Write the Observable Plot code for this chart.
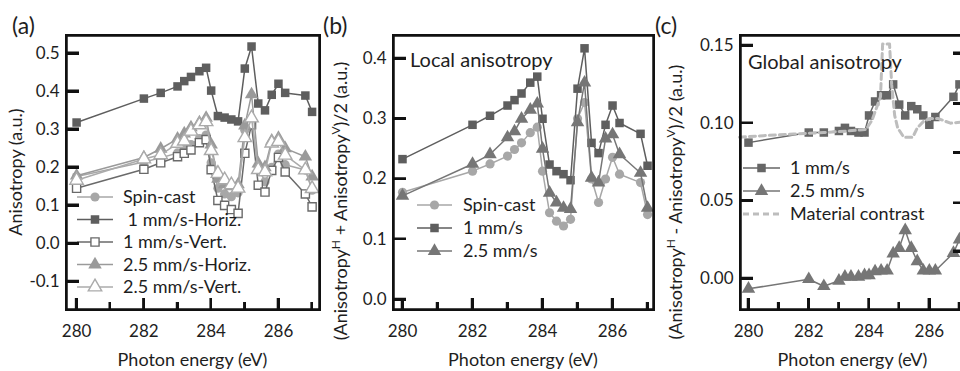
<!DOCTYPE html>
<html><head><meta charset="utf-8">
<script src="https://cdn.jsdelivr.net/npm/d3@7"></script>
<script src="https://cdn.jsdelivr.net/npm/@observablehq/plot@0.6"></script>
<style>
html,body{margin:0;padding:0;background:#fff;overflow:hidden}
#chart{position:relative;width:960px;height:371px;overflow:hidden;font-family:Lato,sans-serif}
#chart svg{position:absolute;top:0;overflow:visible}
#chart .ink{position:absolute;background:#111;z-index:5}
#chart .box{position:absolute;border:2.5px solid #111;box-sizing:border-box;z-index:5}
</style></head><body><div id="chart"></div>
<script>
// ---------- data ----------
const energy = [280, 282, 282.5, 283, 283.2, 283.4, 283.65, 283.85, 284, 284.2, 284.4, 284.6, 284.8, 285, 285.2, 285.4, 285.6, 285.8, 286, 286.2, 286.8, 287];

// panel (a)
const namesA = ["Spin-cast", " 1 mm/s-Horiz.", "1 mm/s-Vert.", "2.5 mm/s-Horiz.", "2.5 mm/s-Vert."];
const spinCastA  = [0.176, 0.214, 0.225, 0.238, 0.249, 0.26, 0.276, 0.285, 0.212, 0.145, 0.13, 0.123, 0.133, 0.298, 0.325, 0.2, 0.162, 0.2, 0.235, 0.207, 0.193, 0.14];
const mm1HorizA  = [0.318, 0.381, 0.396, 0.413, 0.427, 0.438, 0.453, 0.462, 0.402, 0.335, 0.331, 0.326, 0.321, 0.46, 0.518, 0.368, 0.35, 0.391, 0.42, 0.396, 0.389, 0.346];
const mm1VertA   = [0.145, 0.195, 0.212, 0.228, 0.237, 0.246, 0.265, 0.273, 0.194, 0.113, 0.1, 0.089, 0.079, 0.237, 0.312, 0.153, 0.135, 0.192, 0.226, 0.188, 0.13, 0.096];
const mm25HorizA = [0.178, 0.226, 0.249, 0.275, 0.289, 0.305, 0.318, 0.33, 0.26, 0.17, 0.155, 0.15, 0.155, 0.31, 0.392, 0.21, 0.2, 0.27, 0.277, 0.25, 0.228, 0.176];
const mm25VertA  = [0.166, 0.222, 0.233, 0.263, 0.269, 0.295, 0.312, 0.32, 0.244, 0.184, 0.167, 0.154, 0.145, 0.278, 0.33, 0.194, 0.188, 0.264, 0.268, 0.232, 0.193, 0.144];

// panel (b)
const namesB = ["Spin-cast", "1 mm/s", "2.5 mm/s"];
const spinCastB = [0.178, 0.213, 0.225, 0.238, 0.249, 0.26, 0.277, 0.286, 0.213, 0.144, 0.13, 0.122, 0.133, 0.3, 0.327, 0.2, 0.161, 0.2, 0.236, 0.208, 0.194, 0.141];
const mm1B      = [0.233, 0.29, 0.305, 0.322, 0.331, 0.342, 0.36, 0.37, 0.3, 0.224, 0.213, 0.208, 0.198, 0.35, 0.417, 0.26, 0.243, 0.29, 0.322, 0.293, 0.275, 0.222];
const mm25B     = [0.172, 0.225, 0.241, 0.269, 0.279, 0.3, 0.315, 0.325, 0.25, 0.177, 0.161, 0.152, 0.15, 0.294, 0.36, 0.202, 0.194, 0.267, 0.274, 0.241, 0.21, 0.152];

// panel (c)
const namesC = ["1 mm/s", "2.5 mm/s", "Material contrast"];
const mm1C  = [0.0875, 0.094, 0.094, 0.095, 0.097, 0.095, 0.094, 0.094, 0.105, 0.114, 0.118, 0.118, 0.125, 0.112, 0.105, 0.111, 0.109, 0.105, 0.099, 0.104, 0.117, 0.125];
const mm25C = [-0.0067, -0.0005, -0.005, -0.0015, 0.001, 0.001, 0.001, 0.002, 0.002, 0.0045, 0.005, 0.005, 0.016, 0.0196, 0.031, 0.0196, 0.011, 0.005, 0.005, 0.005, 0.0164, 0.025];
const materialEnergy = [279.7, 280.5, 281.5, 282.5, 283.3, 283.9, 284.1, 284.25, 284.38, 284.45, 284.68, 284.75, 284.85, 284.95, 285.15, 285.45, 285.6, 285.8, 286.0, 286.3, 286.7, 287.2];
const materialValue  = [0.091, 0.092, 0.093, 0.094, 0.095, 0.096, 0.102, 0.11, 0.117, 0.151, 0.151, 0.125, 0.105, 0.097, 0.091, 0.091, 0.097, 0.101, 0.103, 0.103, 0.1, 0.101];

// axes
const xLabelTicks = [280, 282, 284, 286];
const xAllTicks = [280, 281, 282, 283, 284, 285, 286, 287];
const yTicksA = [-0.1, 0.0, 0.1, 0.2, 0.3, 0.4, 0.5];
const yTicksB = [0.0, 0.1, 0.2, 0.3, 0.4];
const yTicksC = [0.00, 0.05, 0.10, 0.15];
const yRightTicksC = [0.145, 0.1125, 0.081, 0.0485, 0.0175];

// ---------- drawing ----------
const chartDiv = document.getElementById("chart");
const FONT = "Lato, sans-serif";
const INK = "#1e1e1e";
const FRAME = "#111111";

function inkDiv(cls, left, top, w, h) {
  const d = document.createElement("div");
  d.className = cls;
  d.style.left = left + "px"; d.style.top = top + "px";
  d.style.width = w + "px"; d.style.height = h + "px";
  chartDiv.appendChild(d);
}

function makePanel(cfg) {
  const marks = [];
  for (const s of cfg.series) {
    const rows = s.x.map((e, i) => ({e, v: s.y[i]}));
    if (s.dash) {
      marks.push(Plot.line(rows, {x: "e", y: "v", stroke: s.color, strokeWidth: 3, strokeDasharray: "6,4"}));
    } else {
      marks.push(Plot.line(rows, {x: "e", y: "v", stroke: s.color, strokeWidth: 1.5}));
      marks.push(Plot.dot(rows, {x: "e", y: "v", symbol: s.symbol, r: s.r,
        fill: s.open ? "white" : s.color, stroke: s.color, strokeWidth: s.open ? 1.4 : 0}));
    }
  }
  marks.push(Plot.axisY(cfg.yTicks, {tickSize: 0, tickPadding: 7, tickFormat: d => d.toFixed(cfg.digits), label: null}));
  marks.push(Plot.axisX(xLabelTicks, {tickSize: 0, tickPadding: 15, tickFormat: d => String(d), label: null}));
  marks.push(Plot.frame({stroke: FRAME, strokeWidth: 2.5}));

  const p = Plot.plot({
    width: cfg.width, height: 371,
    marginLeft: cfg.ml, marginRight: cfg.mr, marginTop: 35, marginBottom: 62,
    x: {domain: cfg.xDomain},
    y: {domain: cfg.yDomain},
    style: {fontFamily: FONT, fontSize: "17px", color: INK, background: "transparent", overflow: "visible"},
    marks
  });
  p.style.left = cfg.left + "px";
  chartDiv.appendChild(p);

  const fx = d3.scaleLinear(cfg.xDomain, [cfg.ml, cfg.width - cfg.mr]);
  const fy = d3.scaleLinear(cfg.yDomain, [371 - 62, 35]);
  const scX = p.scale && p.scale("x"), scY = p.scale && p.scale("y");
  const sx = v => (scX && scX.apply) ? scX.apply(v) : fx(v);
  const sy = v => (scY && scY.apply) ? scY.apply(v) : fy(v);

  const svg = d3.select(p);
  const x0 = sx(cfg.xDomain[0]), x1 = sx(cfg.xDomain[1]), y0 = sy(cfg.yDomain[0]), yTop = sy(cfg.yDomain[1]);

  // ticks (SVG path) + HTML overlay copies of frame and ticks
  let d = "";
  const L = cfg.left;
  inkDiv("box", L + x0 - 0.75, yTop - 0.75, (x1 - x0) + 2.5, (y0 - yTop) + 2.5);
  for (const v of cfg.yTicks) {
    const y = sy(v);
    d += `M${x0},${y}H${x0 + 13}`;
    inkDiv("ink", L + x0, y - 0.75, 13, 2.5);
  }
  for (const v of (cfg.rightTicks || [])) {
    const y = sy(v);
    d += `M${x1},${y}H${x1 - 12}`;
    inkDiv("ink", L + x1 - 12, y - 0.75, 12, 2.5);
  }
  for (const v of xAllTicks) {
    const x = sx(v), len = xLabelTicks.includes(v) ? 11 : 7;
    d += `M${x},${y0}V${y0 - len}`;
    inkDiv("ink", L + x - 0.75, y0 - len, 2.5, len);
  }
  svg.append("path").attr("d", d).attr("fill", "none").attr("stroke", FRAME).attr("stroke-width", 2.5);

  const T = (x, y, size) => svg.append("text").attr("x", x).attr("y", y).attr("fill", INK)
    .attr("text-anchor", "start").style("font-family", FONT).style("font-size", size + "px");
  T((cfg.ml + cfg.width - cfg.mr) / 2, 366, 18).attr("text-anchor", "middle").text("Photon energy (eV)");
  T(cfg.letterX, 34, 23).text(cfg.letter);
  const yt = svg.append("text").attr("transform", `translate(${cfg.yTitleX},${cfg.yTitleY}) rotate(-90)`)
    .attr("text-anchor", "middle").attr("dy", "0.35em").attr("fill", INK)
    .style("font-family", FONT).style("font-size", "18px");
  for (const part of cfg.yTitle) {
    const t = yt.append("tspan").text(part.t);
    if (part.sup) t.attr("baseline-shift", "super").style("font-size", "12px");
  }
  if (cfg.inner) T(cfg.inner.x, cfg.inner.y, 20).text(cfg.inner.text);

  const lg = cfg.legend;
  cfg.series.forEach((s, i) => {
    const yy = lg.y0 + i * lg.dy;
    const row = svg.append("g");
    const line = row.append("line").attr("x1", lg.x0).attr("x2", lg.x1).attr("y1", yy).attr("y2", yy)
      .attr("stroke", s.color);
    if (s.dash) line.attr("stroke-width", 3).attr("stroke-dasharray", "6,4");
    else {
      line.attr("stroke-width", 1.5);
      const type = {circle: d3.symbolCircle, square: d3.symbolSquare, triangle: d3.symbolTriangle}[s.symbol];
      row.append("path").attr("transform", `translate(${(lg.x0 + lg.x1) / 2},${yy})`)
        .attr("d", d3.symbol(type, Math.PI * s.r * s.r)())
        .attr("fill", s.open ? "white" : s.color).attr("stroke", s.color).attr("stroke-width", s.open ? 1.4 : 0);
    }
    T(lg.tx, yy, 18).attr("dy", "0.36em").style("white-space", "pre").text(s.name);
  });
}

const DARK = "#5e5e5e", LIGHT = "#a7a7a7", MID = "#9a9a9a";

makePanel({
  left: 0, width: 330, ml: 66, mr: 11,
  xDomain: [279.70, 287.22], yDomain: [-0.174, 0.547],
  yTicks: yTicksA, digits: 1, letter: "(a)", letterX: 12,
  yTitleX: 16, yTitleY: 172, yTitle: [{t: "Anisotropy (a.u.)"}],
  series: [
    {name: namesA[0], x: energy, y: spinCastA, symbol: "circle", r: 4.6, color: LIGHT},
    {name: namesA[1], x: energy, y: mm1HorizA, symbol: "square", r: 4.8, color: DARK},
    {name: namesA[2], x: energy, y: mm1VertA, symbol: "square", r: 4.6, color: "#6a6a6a", open: true},
    {name: namesA[3], x: energy, y: mm25HorizA, symbol: "triangle", r: 5, color: MID},
    {name: namesA[4], x: energy, y: mm25VertA, symbol: "triangle", r: 5, color: "#ababab", open: true}
  ],
  legend: {x0: 77, x1: 113, tx: 123, y0: 197, dy: 22.5}
});

makePanel({
  left: 320, width: 340, ml: 73, mr: 7,
  xDomain: [279.743, 287.17], yDomain: [-0.0167, 0.4383],
  yTicks: yTicksB, digits: 1, letter: "(b)", letterX: 3,
  yTitleX: 21, yTitleY: 201,
  yTitle: [{t: "(Anisotropy"}, {t: "H", sup: true}, {t: " + Anisotropy"}, {t: "V", sup: true}, {t: ")/2 (a.u.)"}],
  inner: {x: 90, y: 67, text: "Local anisotropy"},
  series: [
    {name: namesB[0], x: energy, y: spinCastB, symbol: "circle", r: 4.6, color: LIGHT},
    {name: namesB[1], x: energy, y: mm1B, symbol: "square", r: 4.8, color: DARK},
    {name: namesB[2], x: energy, y: mm25B, symbol: "triangle", r: 5, color: "#767676"}
  ],
  legend: {x0: 97, x1: 132, tx: 143, y0: 205, dy: 23}
});

makePanel({
  left: 650, width: 320, ml: 90, mr: 5,
  xDomain: [279.735, 287.2], yDomain: [-0.02, 0.1565],
  yTicks: yTicksC, digits: 2, letter: "(c)", letterX: 5, rightTicks: yRightTicksC,
  yTitleX: 26, yTitleY: 202,
  yTitle: [{t: "(Anisotropy"}, {t: "H", sup: true}, {t: " - Anisotropy"}, {t: "V", sup: true}, {t: ")/2 (a.u.)"}],
  inner: {x: 98, y: 69, text: "Global anisotropy"},
  series: [
    {name: namesC[0], x: energy, y: mm1C, symbol: "square", r: 4.8, color: "#666666"},
    {name: namesC[1], x: energy, y: mm25C, symbol: "triangle", r: 5, color: "#767676"},
    {name: namesC[2], x: materialEnergy, y: materialValue, dash: true, color: "#bdbdbd"}
  ],
  legend: {x0: 93, x1: 130, tx: 140, y0: 168, dy: 23}
});
</script></body></html>
